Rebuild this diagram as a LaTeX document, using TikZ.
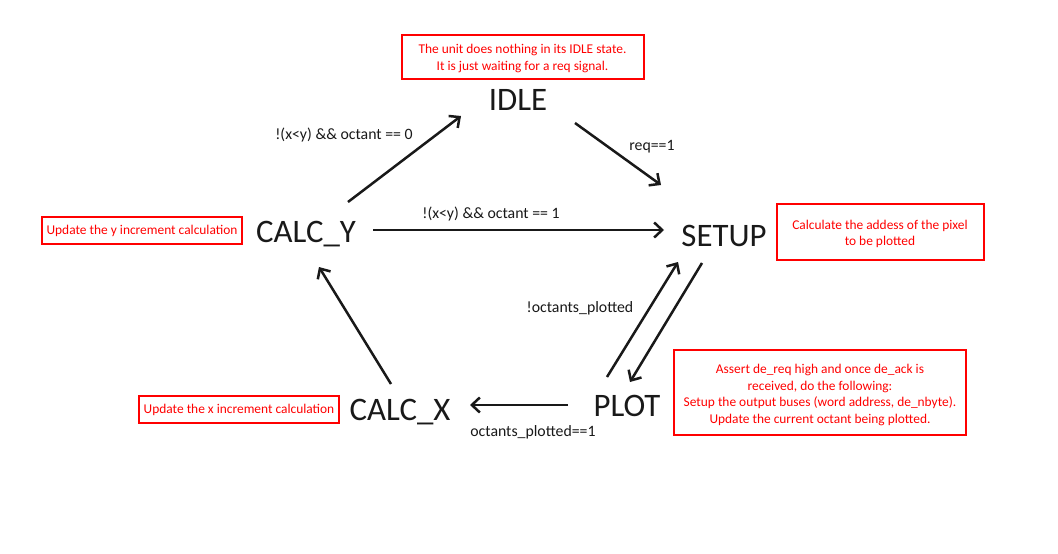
\documentclass[tikz,border=0pt]{standalone}
\usepackage{fontspec}
\setmainfont{Carlito}
\usetikzlibrary{arrows.meta}
\definecolor{annred}{RGB}{255,0,0}
\tikzset{
  statenode/.style={inner sep=0pt, anchor=base, font=\fontsize{32.8}{36}\selectfont, text=black!90},
  edgelabel/.style={inner sep=0pt, anchor=base, font=\fontsize{15.8}{18}\selectfont, text=black!90},
  annot/.style={draw=annred, line width=2pt, text=annred, align=center, inner sep=0pt,
    font=\fontsize{13.4}{16.6}\selectfont},
  annottext/.style={annot, draw=none},
  arr/.style={draw=black!90, line width=2.5pt, -{Straight Barb[length=8pt,width=15pt,line width=2.5pt]}}
}
\begin{document}
\begin{tikzpicture}[x=1pt,y=-1pt]
\useasboundingbox[fill=white] (0,0) rectangle (1058,554);
% states
\node[statenode] (idle) at (518,110) {IDLE};
\node[statenode] (setup) at (724,246) {SETUP};
\node[statenode] (calcy) at (306,242) {CALC\_Y};
\node[statenode] (calcx) at (400,420) {CALC\_X};
\node[statenode] (plot) at (627,416) {PLOT};
% annotations
\node[annot, minimum width=242pt, minimum height=44pt] (nidle) at (522.5,57) {};
\node[annottext] (tidle) at (522.5,58.5)
  {The unit does nothing in its IDLE state.\\It is just waiting for a req signal.};
\node[annot, minimum width=207pt, minimum height=56pt] (nsetup) at (880,232) {};
\node[annottext] (tsetup) at (880,234)
  {Calculate the addess of the pixel\\to be plotted};
\node[annot, minimum width=292pt, minimum height=85pt] (nplot) at (820,392) {};
\node[annottext] (tplot) at (820,395)
  {Assert de\_req high and once de\_ack is\\received, do the following:\\Setup the output buses (word address, de\_nbyte).\\Update the current octant being plotted.};
\node[annot, minimum width=200pt, minimum height=27pt] (ncalcy) at (142,230.5)
  {Update the y increment calculation};
\node[annot, minimum width=200pt, minimum height=27pt] (ncalcx) at (239,409.5)
  {Update the x increment calculation};
% edge labels
\node[edgelabel] (l1) at (344,139) {!(x<y) \&\& octant == 0};
\node[edgelabel] (l2) at (652,150) {req==1};
\node[edgelabel] (l3) at (491,218) {!(x<y) \&\& octant == 1};
\node[edgelabel] (l4) at (580,312) {!octants\_plotted};
\node[edgelabel] (l5) at (533,436) {octants\_plotted==1};
% connectors
\draw[arr] ([shift={(42,-40)}]calcy.base) -- ([shift={(-57,6)}]idle.base);
\draw[arr] ([shift={(57,13)}]idle.base) -- ([shift={(-63,-61)}]setup.base);
\draw[arr] ([shift={(67,-12)}]calcy.base) -- ([shift={(-60,-16)}]setup.base);
\draw[arr] ([shift={(-20,-39)}]plot.base) -- ([shift={(-46,16)}]setup.base);
\draw[arr] ([shift={(-22,17)}]setup.base) -- ([shift={(3,-34)}]plot.base);
\draw[arr] ([shift={(-59,-11)}]plot.base) -- ([shift={(70,-15)}]calcx.base);
\draw[arr] ([shift={(-9,-36)}]calcx.base) -- ([shift={(13,25)}]calcy.base);
\end{tikzpicture}
\end{document}
